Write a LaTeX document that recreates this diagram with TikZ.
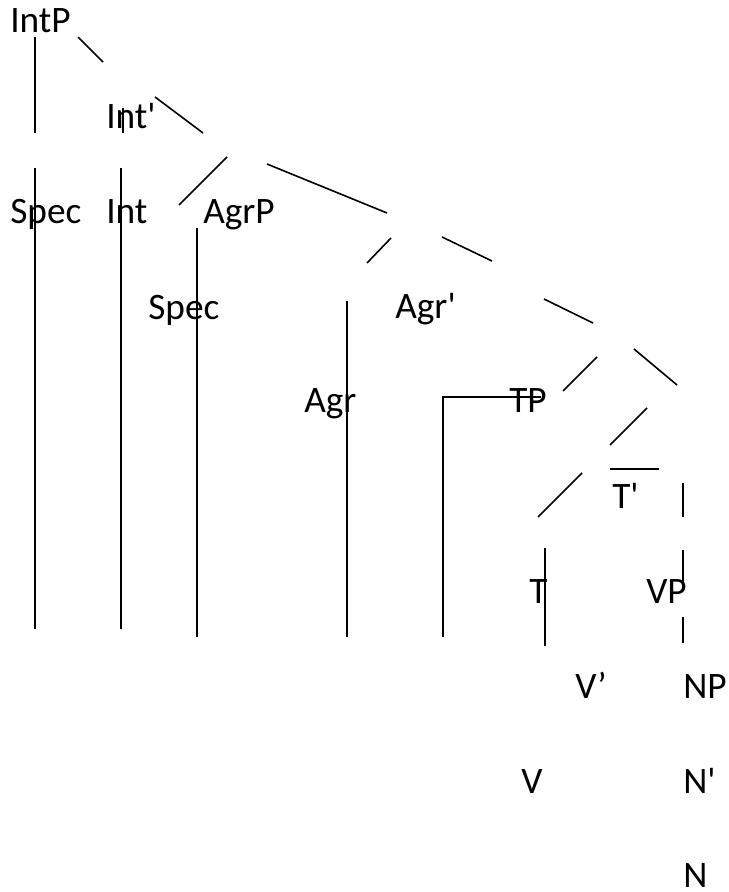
\documentclass[tikz,border=0pt]{standalone}
\usepackage{fontspec}
\setmainfont{Carlito}
\newcommand{\sq}{\textquotesingle}
\begin{document}
\begin{tikzpicture}[x=0.75pt,y=-0.75pt,
  lbl/.style={inner sep=0pt,anchor=base west,font=\fontsize{28}{30}\selectfont},
  ln/.style={line width=1.2pt,black}]
\useasboundingbox[fill=white] (0,0) rectangle (728,892);
% labels
\node[lbl] (intp) at (10,33) {IntP};
\node[lbl] (intb) at (106,128) {Int\sq};
\node[lbl] (spec1) at (10,223) {Spec};
\node[lbl] (int) at (106,223) {Int};
\node[lbl] (agrp) at (203,223) {AgrP};
\node[lbl] (spec2) at (148,319) {Spec};
\node[lbl] (agrb) at (395,318) {Agr\sq};
\node[lbl] (agr) at (304,412) {Agr};
\node[lbl] (tp) at (509,412) {TP};
\node[lbl] (tb) at (612,508) {T\sq};
\node[lbl] (t) at (529,603) {T};
\node[lbl] (vp) at (646,603) {VP};
\node[lbl] (vb) at (575,698) {V’};
\node[lbl] (np) at (683,698) {NP};
\node[lbl] (v) at (521,793) {V};
\node[lbl] (nb) at (683,793) {N\sq};
\node[lbl] (n) at (683,887) {N};
% lines
\draw[ln] (35,37) -- (35,133);
\draw[ln] (78,37) -- (103,62);
\draw[ln] (123,108) -- (123,133);
\draw[ln] (155,97) -- (203,133);
\draw[ln] (227,157) -- (179,205);
\draw[ln] (267,164) -- (387,213);
\draw[ln] (35,168) -- (35,629);
\draw[ln] (121,168) -- (121,629);
\draw[ln] (197,228) -- (197,637);
\draw[ln] (391,238) -- (367,263);
\draw[ln] (442,237) -- (492,261);
\draw[ln] (347,301) -- (347,637);
\draw[ln] (544,299) -- (593,323);
\draw[ln] (597,357) -- (563,391);
\draw[ln] (634,349) -- (677,385);
\draw[ln] (541,397) -- (443,397) -- (443,637);
\draw[ln] (647,408) -- (610,445);
\draw[ln] (610,469) -- (659,469);
\draw[ln] (582,473) -- (538,517);
\draw[ln] (683,483) -- (683,517);
\draw[ln] (683,550) -- (683,582);
\draw[ln] (683,617) -- (683,643);
\draw[ln] (545,548) -- (545,646);
\end{tikzpicture}
\end{document}
